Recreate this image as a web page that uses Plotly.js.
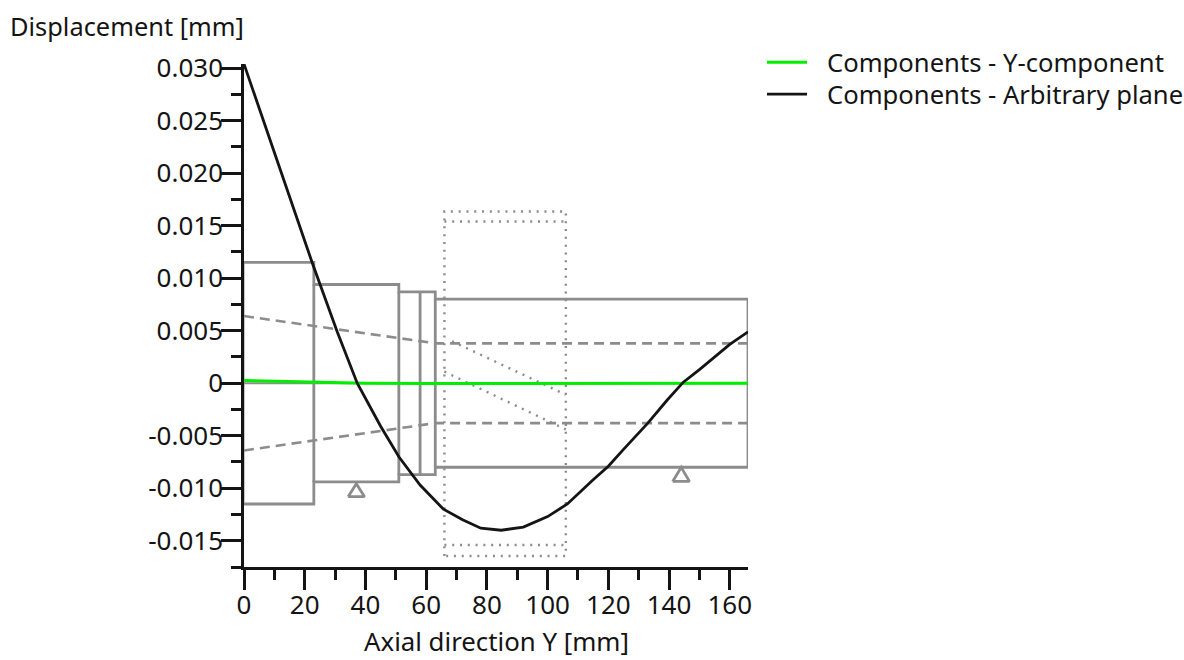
<!DOCTYPE html>
<html>
<head>
<meta charset="utf-8">
<script src="https://cdn.plot.ly/plotly-3.0.1.min.js"></script>
<style>
html,body{margin:0;padding:0;background:#fff}
#chart{width:1184px;height:660px}
.legendlines path{stroke-dasharray:40px 200px !important}
</style>
</head>
<body>
<div id="chart"></div>
<script>
// ---- curves
const arbX = [0, 12, 22.5, 30.7, 37.3, 45, 51, 58, 65.7, 72, 78, 84.7, 92, 100, 106.5, 115, 120, 125, 133, 139.4, 144.7, 150, 160, 166];
const arbY = [0.0304, 0.0203, 0.01145, 0.0049, 0, -0.0041, -0.007, -0.0097, -0.012, -0.0130, -0.0138, -0.014, -0.0137, -0.0127, -0.0115, -0.0092, -0.0079, -0.0063, -0.0038, -0.0016, 0.0001, 0.0013, 0.0037, 0.0049];
const compX = [0, 20, 40, 60, 100, 166];
const compY = [0.00025, 0.00012, 0, -0.00003, -0.00003, 0];

// ---- shaft geometry
const outerX = [-0.3, -0.3, 23, 23, 51, 51, 63, 63, 166, 166, 63, 63, 51, 51, 23, 23, -0.3];
const outerY = [-0.0115, 0.0115, 0.0115, 0.0094, 0.0094, 0.0087, 0.0087, 0.008, 0.008, -0.008, -0.008, -0.0087, -0.0087, -0.0094, -0.0094, -0.0115, -0.0115];
const step1X = [23, 23];
const step1Y = [0.0094, -0.0094];
const step2X = [51, 51];
const step2Y = [0.0087, -0.0087];
const step3X = [58, 58];
const step3Y = [0.0087, -0.0087];
const step4X = [63, 63];
const step4Y = [0.008, -0.008];
const boreTopX = [0, 63, 166];
const boreTopY = [0.0064, 0.0038, 0.0038];
const boreBotX = [0, 63, 166];
const boreBotY = [-0.0064, -0.0038, -0.0038];
const boxX = [66, 66, 106, 106, 66];
const boxY = [-0.01645, 0.01636, 0.01636, -0.01645, -0.01645];
const boxInnerTopX = [66, 106];
const boxInnerTopY = [0.0154, 0.0154];
const boxInnerBotX = [66, 106];
const boxInnerBotY = [-0.0154, -0.0154];
const diagAX = [68.5, 106];
const diagAY = [0.004, -0.0011];
const diagBX = [66, 106];
const diagBY = [0.0011, -0.0044];
const bearing1X = [34.3, 37, 39.7, 34.3];
const bearing1Y = [-0.0108, -0.00957, -0.0108, -0.0108];
const bearing2X = [141.2, 144, 146.7, 141.2];
const bearing2Y = [-0.00935, -0.0080, -0.00935, -0.00935];
const zeroX = [-7, 174.5];
const zeroY = [0, 0];

// ---- ticks and labels
const xTicks = [0, 20, 40, 60, 80, 100, 120, 140, 160];
const xTickLabels = ['0', '20', '40', '60', '80', '100', '120', '140', '160'];
const xMinor = [10, 30, 50, 70, 90, 110, 130, 150];
const yTicks = [-0.015, -0.01, -0.005, 0, 0.005, 0.01, 0.015, 0.02, 0.025, 0.03];
const yTickLabels = ['-0.015', '-0.010', '-0.005', '0', '0.005', '0.010', '0.015', '0.020', '0.025', '0.030'];
const yMinor = [-0.0175, -0.0125, -0.0075, -0.0025, 0.0025, 0.0075, 0.0125, 0.0175, 0.0225, 0.0275];
const seriesNames = ['Components - Y-component', 'Components - Arbitrary plane'];

const gray = '#8c8c8c', ink = '#141414', fontFam = '"Noto Sans", Tahoma, sans-serif';
function shaft(x, y, width, dash) {
  return {x, y, type: 'scatter', mode: 'lines', showlegend: false, hoverinfo: 'skip', cliponaxis: false,
    line: {color: gray, width, dash: dash || 'solid', shape: 'linear'}};
}
const traces = [
  shaft(zeroX, zeroY, 2),
  shaft(boxX, boxY, 2.4, '2px,5.8px'),
  shaft(boxInnerTopX, boxInnerTopY, 2.4, '2px,5.8px'),
  shaft(boxInnerBotX, boxInnerBotY, 2.4, '2px,5.8px'),
  shaft(diagAX, diagAY, 2.4, '2px,5.8px'),
  shaft(diagBX, diagBY, 2.4, '2px,5.8px'),
  shaft(boreTopX, boreTopY, 2.6, '10px,6px'),
  shaft(boreBotX, boreBotY, 2.6, '10px,6px'),
  shaft(outerX, outerY, 2.8),
  shaft(step1X, step1Y, 2.8),
  shaft(step2X, step2Y, 2.8),
  shaft(step3X, step3Y, 2.8),
  shaft(step4X, step4Y, 2.8),
  shaft(bearing1X, bearing1Y, 2.8),
  shaft(bearing2X, bearing2Y, 2.8),
  {x: compX, y: compY, name: seriesNames[0], legend: 'legend', type: 'scatter', mode: 'lines', cliponaxis: false, line: {color: '#00ee00', width: 3}},
  {x: arbX, y: arbY, name: seriesNames[1], legend: 'legend2', type: 'scatter', mode: 'lines', cliponaxis: false, line: {color: ink, width: 2.8}}
];
const legendBase = {x: 1.0278, xanchor: 'left', yanchor: 'top', itemwidth: 55, borderwidth: 0, bgcolor: 'rgba(0,0,0,0)', font: {size: 25.6}};
const layout = {
  width: 1184, height: 660,
  paper_bgcolor: '#fff', plot_bgcolor: '#fff',
  font: {family: fontFam, size: 26, color: ink},
  margin: {l: 243.5, r: 436, t: 64, b: 93, pad: 0, autoexpand: false},
  xaxis: {
    range: [0, 166], showgrid: false, zeroline: false, showline: true, linecolor: ink, linewidth: 2.5,
    tickmode: 'array', tickvals: xTicks, ticktext: xTickLabels, ticks: 'outside', ticklen: 20, tickwidth: 2.5, tickcolor: ink,
    minor: {tickmode: 'array', tickvals: xMinor, ticks: 'outside', ticklen: 10, tickwidth: 2.5, tickcolor: ink, showgrid: false},
    layer: 'below traces', tickangle: 0, ticklabelstandoff: -7
  },
  yaxis: {
    range: [-0.0175, 0.0304], showgrid: false, zeroline: false, showline: true, linecolor: ink, linewidth: 2.5,
    tickmode: 'array', tickvals: yTicks, ticktext: yTickLabels, ticks: 'outside', ticklen: 20, tickwidth: 2.5, tickcolor: ink,
    minor: {tickmode: 'array', tickvals: yMinor, ticks: 'outside', ticklen: 10, tickwidth: 2.5, tickcolor: ink, showgrid: false},
    layer: 'below traces', ticklabelstandoff: -7
  },
  legend: Object.assign({y: 1.0497}, legendBase),
  legend2: Object.assign({y: 0.9861}, legendBase),
  annotations: [
    {text: 'Displacement [mm]', xref: 'paper', yref: 'paper', x: -0.469, y: 1.0756, xanchor: 'left', yanchor: 'middle', showarrow: false, font: {size: 25.4}},
    {text: 'Axial direction Y [mm]', xref: 'paper', yref: 'paper', x: 0.5, y: -0.1475, xanchor: 'center', yanchor: 'middle', showarrow: false, font: {size: 25.8}}
  ]
};
Plotly.newPlot('chart', traces, layout, {displayModeBar: false, responsive: false});
</script>
</body>
</html>
